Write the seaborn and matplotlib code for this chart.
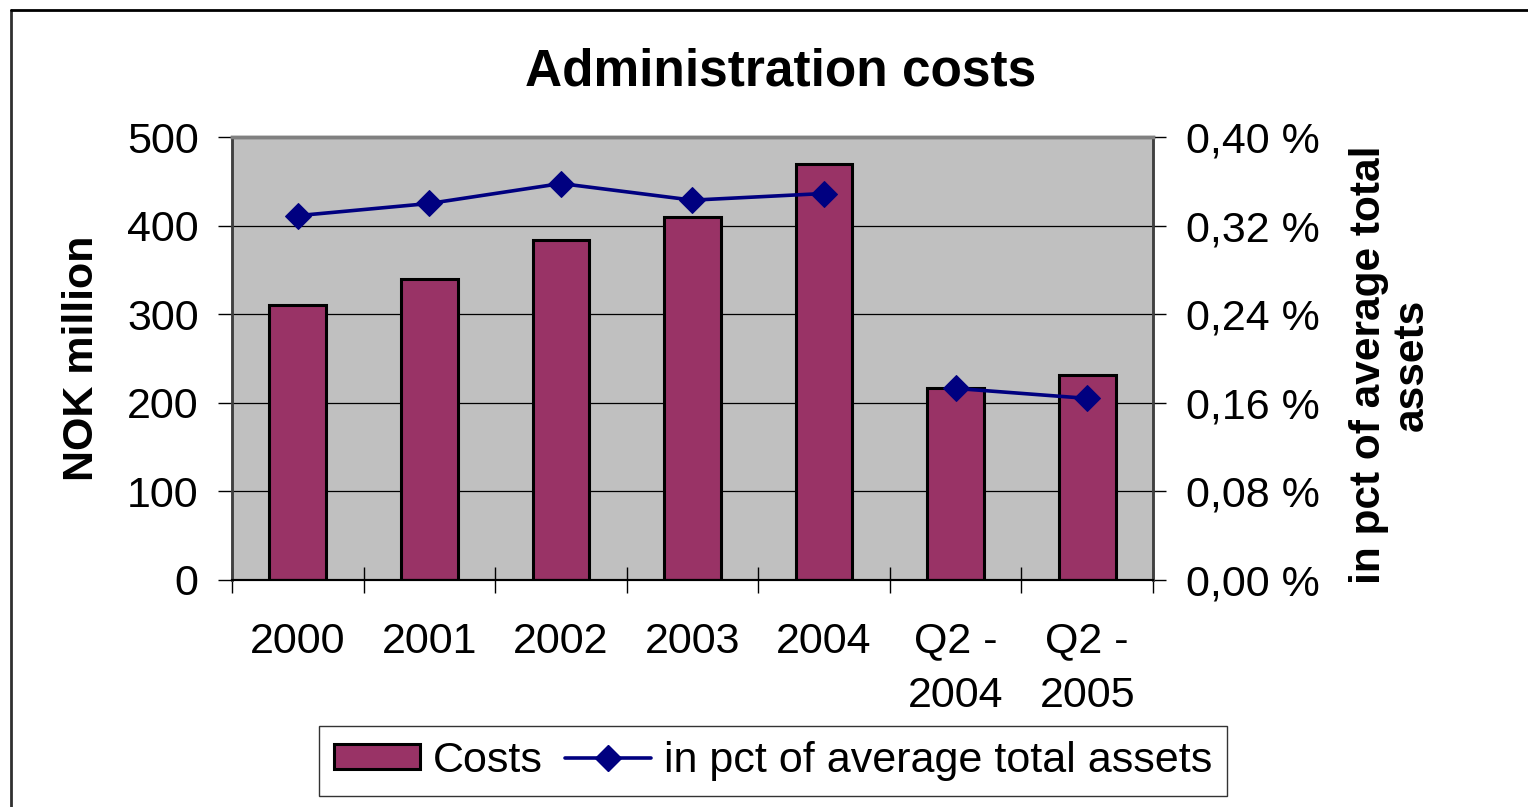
import numpy as np
import pandas as pd
import matplotlib
matplotlib.use("Agg")
import matplotlib.pyplot as plt
from matplotlib.ticker import FixedLocator, FuncFormatter, NullFormatter
from matplotlib.lines import Line2D
from matplotlib.patches import Patch
import seaborn as sns

# Data
categories = ["2000", "2001", "2002", "2003", "2004", "Q2 -\n2004", "Q2 -\n2005"]
costs = [310, 340, 384, 410, 470, 217, 231]                 # NOK million
pct_assets = [0.329, 0.340, 0.358, 0.343, 0.349, 0.173, 0.164]  # % of average total assets
segments = ["annual", "annual", "annual", "annual", "annual", "quarter", "quarter"]
left_ticks = [0, 100, 200, 300, 400, 500]
right_ticks = [0.00, 0.08, 0.16, 0.24, 0.32, 0.40]

sns.set_style("white")
plt.rcParams["font.family"] = ["Liberation Sans", "DejaVu Sans"]
plt.rcParams.update({"text.color": "black", "axes.labelcolor": "black",
                     "xtick.color": "black", "ytick.color": "black"})

BAR_COLOR = "#993366"
LINE_COLOR = "#000080"
PLOT_BG = "#C0C0C0"

fig = plt.figure(figsize=(15.28, 8.07), dpi=100)
ax = fig.add_axes([0.1518, 0.2813, 0.6028, 0.5489])
ax.set_facecolor(PLOT_BG)
ax.set_axisbelow(True)

bars = pd.DataFrame({"category": categories, "costs": costs})
sns.barplot(data=bars, x="category", y="costs", ax=ax, color=BAR_COLOR,
            saturation=1, edgecolor="black", linewidth=2.2, width=0.43)

ax.set_xlim(-0.5, len(categories) - 0.5)
ax.set_ylim(0, 500)
ax.yaxis.set_major_locator(FixedLocator(left_ticks))
ax.grid(axis="y", color="black", linewidth=0.9)
ax.grid(axis="x", visible=False)

# x axis: labels centred on categories, tick marks on boundaries
ax.set_xlabel("")
ax.tick_params(axis="x", which="major", length=0, pad=30, labelsize=31,
               labelcolor="black")
ax.xaxis.set_minor_locator(FixedLocator(np.arange(len(categories) + 1) - 0.5))
ax.xaxis.set_minor_formatter(NullFormatter())
ax.tick_params(axis="x", which="minor", direction="inout", length=19,
               width=1, color="black", bottom=True)
for lab in ax.get_xticklabels():
    lab.set_linespacing(1.45)

ax.tick_params(axis="y", which="major", direction="out", length=10, width=1,
               color="black", pad=14, labelsize=31, left=True, labelcolor="black")
ax.set_ylabel("NOK million", fontsize=31, fontweight="bold", color="black")
ax.yaxis.set_label_coords(-0.163, 0.5)
ax.yaxis.label.set_verticalalignment("center")

# Secondary axis with the percentage line
ax2 = ax.twinx()
line_df = pd.DataFrame({"pos": np.arange(len(categories)), "pct": pct_assets,
                        "segment": segments})
sns.lineplot(data=line_df, x="pos", y="pct", units="segment", estimator=None,
             ax=ax2, color=LINE_COLOR, linewidth=2.6, marker="D",
             markersize=13, markeredgecolor=LINE_COLOR, legend=False)
ax2.set_ylim(0, 0.40)
ax2.set_xlim(-0.5, len(categories) - 0.5)
ax2.yaxis.set_major_locator(FixedLocator(right_ticks))
ax2.yaxis.set_major_formatter(FuncFormatter(lambda v, p: f"{v:.2f} %".replace(".", ",")))
ax2.tick_params(axis="y", direction="out", length=9, width=1, color="black",
                pad=15, labelsize=31, right=True, labelcolor="black")
ax2.set_xlabel("")
ax2.set_ylabel("in pct of average total\nassets", fontsize=30.5, fontweight="bold",
               rotation=90, linespacing=1.1, color="black")
ax2.yaxis.set_label_coords(1.258, 0.485)
ax2.yaxis.label.set_verticalalignment("center")
ax2.grid(False)

for a in (ax, ax2):
    a.spines["top"].set_color("#808080")
    a.spines["top"].set_linewidth(2.5)
    a.spines["left"].set_color("#404040")
    a.spines["left"].set_linewidth(1.8)
    a.spines["right"].set_color("#404040")
    a.spines["right"].set_linewidth(1.8)
    a.spines["bottom"].set_color("black")
    a.spines["bottom"].set_linewidth(1.5)

fig.text(781 / 1528, 1 - 72 / 807, "Administration costs", fontsize=37,
         fontweight="bold", ha="center", va="center", color="black")

handles = [
    Patch(facecolor=BAR_COLOR, edgecolor="black", linewidth=2.2, label="Costs"),
    Line2D([0], [0], color=LINE_COLOR, linewidth=2.6, marker="D", markersize=13,
           label="in pct of average total assets"),
]
leg = fig.legend(handles=handles, loc="center", bbox_to_anchor=(0.506, 0.057),
                 ncol=2, fontsize=31, frameon=True, fancybox=False,
                 edgecolor="black", handlelength=2.0, handleheight=0.5,
                 handletextpad=0.3, columnspacing=0.5, borderpad=0.35,
                 borderaxespad=0, labelcolor="black")
leg.get_frame().set_linewidth(1.0)

# Outer chart border (top and left edges)
fig.add_artist(Line2D([11 / 1528, 11 / 1528], [0, 1 - 10 / 807], color="#303030",
                      linewidth=2, transform=fig.transFigure))
fig.add_artist(Line2D([11 / 1528, 1], [1 - 10 / 807, 1 - 10 / 807], color="black",
                      linewidth=2, transform=fig.transFigure))

fig.savefig("out.png", dpi=100, facecolor="white")
